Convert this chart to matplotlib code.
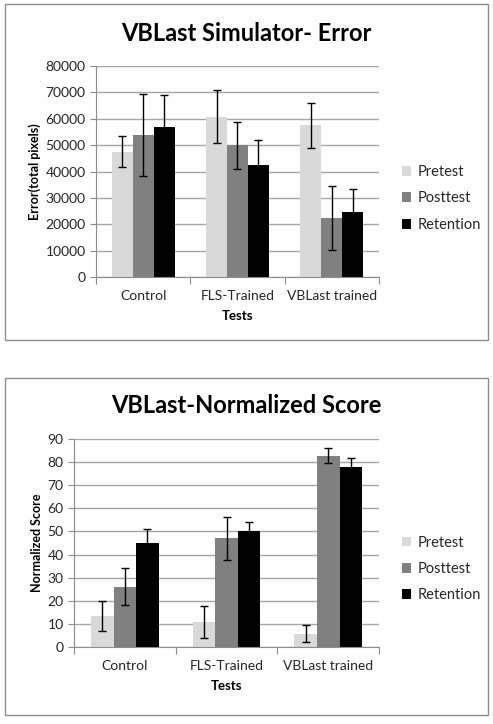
import numpy as np
import matplotlib
matplotlib.use("Agg")
import matplotlib.pyplot as plt
from matplotlib.patches import Rectangle

plt.rcParams['font.family'] = ['Lato', 'DejaVu Sans']

groups = ["Control", "FLS-Trained", "VBLast trained"]
series = ["Pretest", "Posttest", "Retention"]
colors = ["#d9d9d9", "#808080", "#000000"]

# error chart (total pixels)
err_mean = {
    "Pretest":   [47500, 60800, 57500],
    "Posttest":  [53800, 49900, 22400],
    "Retention": [56700, 42500, 24600],
}
err_sd = {
    "Pretest":   [5800, 10000, 8400],
    "Posttest":  [15500, 9000, 12200],
    "Retention": [12500, 9300, 8700],
}

# normalized score chart
score_mean = {
    "Pretest":   [13.5, 11.1, 5.8],
    "Posttest":  [26.2, 47.0, 82.7],
    "Retention": [45.1, 50.0, 77.9],
}
score_sd = {
    "Pretest":   [6.3, 6.9, 3.6],
    "Posttest":  [8.0, 9.2, 3.2],
    "Retention": [6.0, 4.0, 3.6],
}

fig = plt.figure(figsize=(4.93, 7.24), dpi=100)
fig.patch.set_facecolor("white")

# panel frames
for yb in [0.530, 0.0124]:
    fig.patches.append(Rectangle((0.0101, yb), 0.98, 0.465, transform=fig.transFigure,
                                 fill=False, edgecolor="#8c8c8c", linewidth=1))


def draw(ax, means, sds, ymax, ystep, title, ylabel, title_y, leg_y):
    x = np.arange(len(groups))
    w = 0.222
    for i, s in enumerate(series):
        ax.bar(x + (i - 1) * w, means[s], w, color=colors[i], zorder=2, label=s)
        ax.errorbar(x + (i - 1) * w, means[s], yerr=sds[s], fmt="none", ecolor="black",
                    elinewidth=1, capsize=3, capthick=1, zorder=3)
    ax.set_xlim(-0.5, 2.5)
    ax.set_ylim(0, ymax)
    ax.set_yticks(np.arange(0, ymax + 1, ystep))
    ax.yaxis.grid(True, color="#a6a6a6", linewidth=1, zorder=0)
    ax.set_axisbelow(True)
    for sp in ["top", "right"]:
        ax.spines[sp].set_visible(False)
    for sp in ["left", "bottom"]:
        ax.spines[sp].set_color("#8c8c8c")
    ax.set_xticks([-0.5, 0.5, 1.5, 2.5])
    ax.set_xticklabels([])
    ax.set_xticks(x, minor=True)
    ax.set_xticklabels(groups, minor=True, fontsize=10, color="#262626")
    ax.tick_params(axis="x", which="major", length=5, color="#8c8c8c", direction="out")
    ax.tick_params(axis="x", which="minor", length=0, pad=9)
    ax.tick_params(axis="y", length=4, color="#8c8c8c", labelsize=10, labelcolor="#262626")
    ax.set_xlabel("Tests", fontsize=9.5, fontweight="bold", labelpad=6)
    ax.set_ylabel(ylabel, fontsize=9, fontweight="bold", labelpad=3)
    fig.text(0.5, title_y, title, ha="center", va="center", fontsize=17, fontweight="bold")
    fig.legend(*ax.get_legend_handles_labels(), loc="center left", bbox_to_anchor=(0.815, leg_y),
               frameon=False, fontsize=10.5, handlelength=0.65, handleheight=0.65,
               handletextpad=0.45, labelspacing=0.85, labelcolor="#262626",
               borderpad=0, borderaxespad=0)


ax1 = fig.add_axes([0.1947, 0.6174, 0.574, 0.2914])
draw(ax1, err_mean, err_sd, 80000, 10000, "VBLast Simulator- Error",
     "Error(total pixels)", 0.954, 0.726)

ax2 = fig.add_axes([0.150, 0.106, 0.619, 0.288])
draw(ax2, score_mean, score_sd, 90, 10, "VBLast-Normalized Score",
     "Normalized Score", 0.440, 0.214)

fig.savefig("out.png", dpi=100)
